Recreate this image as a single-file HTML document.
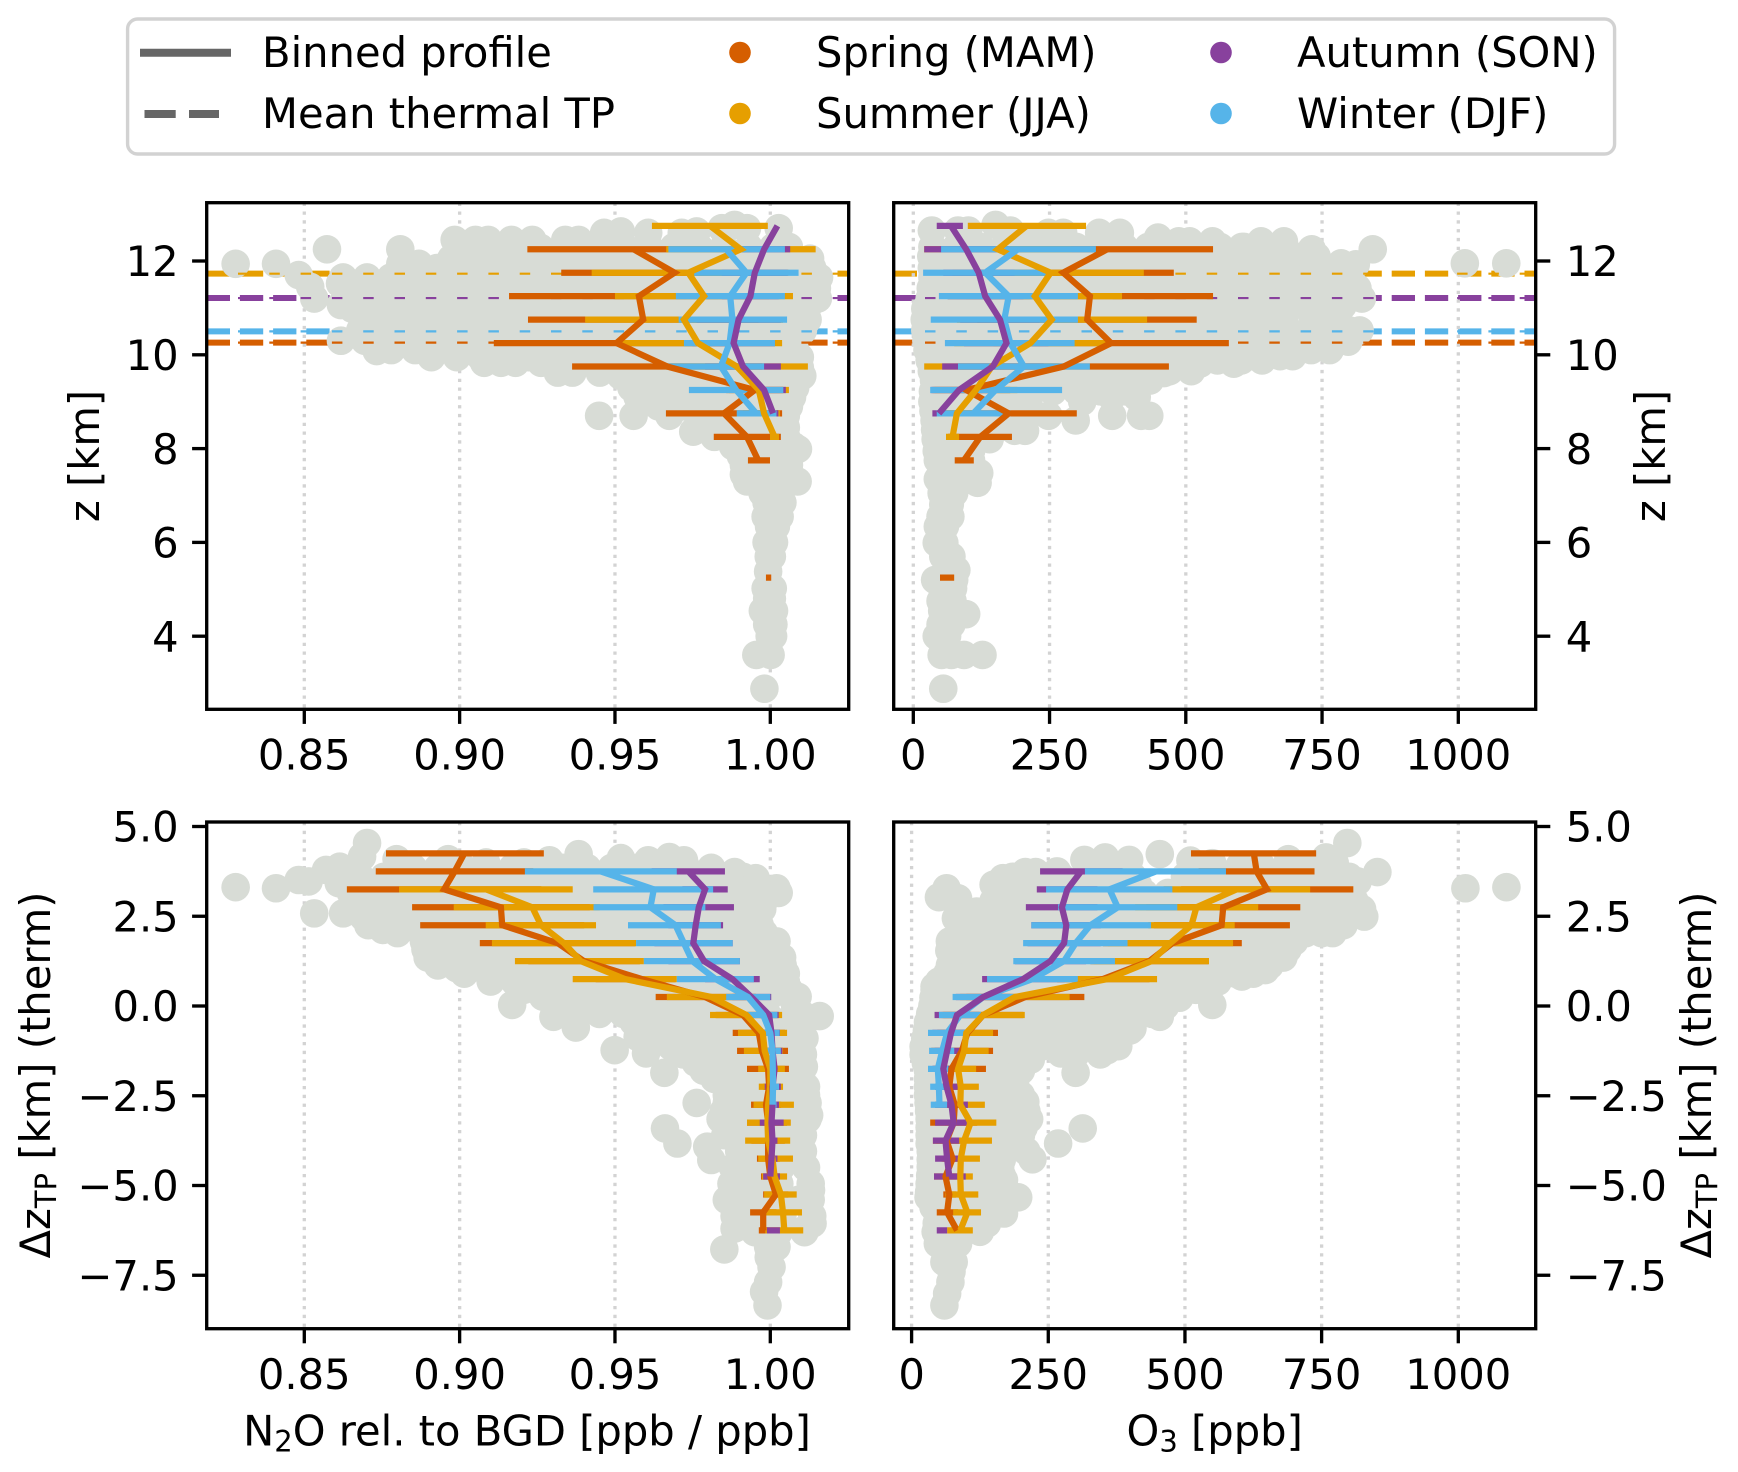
<!DOCTYPE html>
<html lang="en">
<head>
<meta charset="utf-8">
<title>Seasonal N2O and O3 profiles</title>
<style>
html,body{margin:0;padding:0;background:#fff}
svg{display:block}
text{font-family:"DejaVu Sans","Liberation Sans",sans-serif;font-size:41.67px;fill:#000}
</style>
</head>
<body>
<svg id="figure" xmlns="http://www.w3.org/2000/svg" width="1738" height="1472" viewBox="0 0 1738 1472">
<rect x="0" y="0" width="1738" height="1472" fill="#fff"/>
<defs>
<clipPath id="clip-tl"><rect x="206.7" y="202.7" width="642" height="506.6"/></clipPath>
<clipPath id="clip-tr"><rect x="893.7" y="202.7" width="642" height="506.6"/></clipPath>
<clipPath id="clip-bl"><rect x="206.7" y="822" width="642" height="506.7"/></clipPath>
<clipPath id="clip-br"><rect x="893.7" y="822" width="642" height="506.7"/></clipPath>
</defs>
<g id="panels"></g>
<g>
<rect x="127.6" y="19" width="1487" height="135" rx="10" ry="10" fill="#fff" stroke="#d2d2d2" stroke-width="3.4"/>
<line x1="140" y1="52.7" x2="231" y2="52.7" stroke="#666" stroke-width="8"/>
<text x="262" y="67">Binned profile</text>
<line x1="144.5" y1="114" x2="175.7" y2="114" stroke="#666" stroke-width="8"/>
<line x1="189" y1="114" x2="219" y2="114" stroke="#666" stroke-width="8"/>
<text x="262" y="128">Mean thermal TP</text>
<circle cx="740" cy="52.5" r="10.8" fill="#D55E00"/>
<text x="816" y="67">Spring (MAM)</text>
<circle cx="740" cy="113.5" r="10.8" fill="#E69F00"/>
<text x="816" y="128">Summer (JJA)</text>
<circle cx="1221" cy="52.5" r="10.8" fill="#88419D"/>
<text x="1297" y="67">Autumn (SON)</text>
<circle cx="1221" cy="113.5" r="10.8" fill="#56B4E9"/>
<text x="1297" y="128">Winter (DJF)</text>
</g>
<text transform="translate(99,456) rotate(-90)" text-anchor="middle">z [km]</text>
<text transform="translate(1665,456) rotate(-90)" text-anchor="middle">z [km]</text>
<text transform="translate(50,1075) rotate(-90)" text-anchor="middle">Δz<tspan font-size="29" dy="6">TP</tspan><tspan dy="-6"> [km] (therm)</tspan></text>
<text transform="translate(1711,1075) rotate(-90)" text-anchor="middle">Δz<tspan font-size="29" dy="6">TP</tspan><tspan dy="-6"> [km] (therm)</tspan></text>
<text x="527" y="1445.7" text-anchor="middle">N<tspan font-size="29" dy="6">2</tspan><tspan dy="-6">O rel. to BGD [ppb / ppb]</tspan></text>
<text x="1214.7" y="1445.7" text-anchor="middle">O<tspan font-size="29" dy="6">3</tspan><tspan dy="-6"> [ppb]</tspan></text>
</svg>
<script>
const _ = null;
const seasonNames = ['spring', 'summer', 'autumn', 'winter'];
const seasonColors = ['#D55E00', '#E69F00', '#88419D', '#56B4E9'];

const n2oTicks = [0.85, 0.90, 0.95, 1.00];
const n2oTickLabels = ['0.85', '0.90', '0.95', '1.00'];
const o3Ticks = [0, 250, 500, 750, 1000];
const o3TickLabels = ['0', '250', '500', '750', '1000'];
const zTicks = [4, 6, 8, 10, 12];
const zTickLabels = ['4', '6', '8', '10', '12'];
const dzTicks = [5, 2.5, 0, -2.5, -5, -7.5];
const dzTickLabels = ['5.0', '2.5', '0.0', '\u22122.5', '\u22125.0', '\u22127.5'];
const thermalTpLevels = [10.26, 11.73, 11.21, 10.5];

const zBins = [5.25, 5.75, 6.25, 6.75, 7.25, 7.75, 8.25, 8.75, 9.25, 9.75, 10.25, 10.75, 11.25, 11.75, 12.25, 12.75];
const dzBins = [-6.25, -5.75, -5.25, -4.75, -4.25, -3.75, -3.25, -2.75, -2.25, -1.75, -1.25, -0.75, -0.25, 0.25, 0.75, 1.25, 1.75, 2.25, 2.75, 3.25, 3.75, 4.25];

const zN2oSpringMean = [.9995,_,_,_,_,.9961,.9925,.9851,.9950,.9668,.9505,.9591,.9577,.9692,.9560,_];
const zN2oSpringLow = [.9986,_,_,_,_,.9928,.9818,.9664,.9858,.9362,.9110,.9220,.9159,.9327,.9218,_];
const zN2oSpringHigh = [1.0003,_,_,_,_,.9999,1.0034,1.0038,1.0041,.9974,.9901,.9962,.9996,1.0058,.9901,_];
const zN2oSummerMean = [_,_,_,_,_,_,1.0014,.9980,.9963,.9892,.9767,.9722,.9787,.9736,.9905,.9806];
const zN2oSummerLow = [_,_,_,_,_,_,.9999,.9912,.9867,.9664,.9505,.9404,.9500,.9425,.9665,.9619];
const zN2oSummerHigh = [_,_,_,_,_,_,1.0028,1.0031,1.0060,1.0121,1.0038,1.0041,1.0073,1.0046,1.0146,.9992];
const zN2oAutumnMean = [_,_,_,_,_,_,_,1.0009,.9980,.9912,.9882,.9898,.9936,.9950,.9980,1.0023];
const zN2oAutumnLow = [_,_,_,_,_,_,_,.9993,.9909,.9790,.9749,.9763,.9844,.9844,.9896,1.0023];
const zN2oAutumnHigh = [_,_,_,_,_,_,_,1.0026,1.0050,1.0034,1.0015,1.0034,1.0027,1.0054,1.0064,1.0023];
const zN2oWinterMean = [_,_,_,_,_,_,_,.9955,.9890,.9841,.9869,.9878,.9871,.9923,.9858,_];
const zN2oWinterLow = [_,_,_,_,_,_,_,.9892,.9738,.9664,.9722,.9705,.9696,.9755,.9672,_];
const zN2oWinterHigh = [_,_,_,_,_,_,_,1.0020,1.0042,.9980,1.0015,1.0054,1.0047,1.0091,1.0047,_];

const zO3SpringMean = [62,_,_,_,_,93,123,175,97,276,363,319,324,275,356,_];
const zO3SpringLow = [49,_,_,_,_,76,64,49,35,83,147,117,97,72,162,_];
const zO3SpringHigh = [75,_,_,_,_,111,181,300,178,469,579,520,550,478,550,_];
const zO3SummerMean = [_,_,_,_,_,_,72,80,115,144,215,254,223,252,155,208];
const zO3SummerLow = [_,_,_,_,_,_,60,47,39,20,75,80,63,80,20,100];
const zO3SummerHigh = [_,_,_,_,_,_,84,114,191,267,356,429,383,423,290,317];
const zO3AutumnMean = [_,_,_,_,_,_,_,47,84,146,171,159,132,120,97,69];
const zO3AutumnLow = [_,_,_,_,_,_,_,35,32,53,93,86,63,55,20,43];
const zO3AutumnHigh = [_,_,_,_,_,_,_,59,137,239,248,232,202,186,175,91];
const zO3WinterMean = [_,_,_,_,_,_,_,110,151,203,178,167,175,132,192,_];
const zO3WinterLow = [_,_,_,_,_,_,_,43,31,82,58,32,47,18,51,_];
const zO3WinterHigh = [_,_,_,_,_,_,_,178,273,324,296,302,302,246,335,_];

const dzN2oSpringMean = [.9977,.9977,1.0018,1.0,.9993,.9993,.9993,.9986,.9996,.9993,.9973,.9963,.9912,.9790,.9587,.9400,.9316,.9137,.9133,.8950,.8984,.9015];
const dzN2oSpringLow = [.9963,.9935,.9977,.9970,.9957,.9939,.9925,.9938,.9977,.9925,.9893,.9879,.9824,.9631,.9438,.9221,.9065,.8873,.8847,.8637,.8730,.8763];
const dzN2oSpringHigh = [.9991,1.002,1.0058,1.0031,1.0031,1.0047,1.0054,1.0035,1.0015,1.0060,1.0057,1.0047,1.0,.9953,.9695,.9580,.9566,.9401,.9419,.9263,.9237,.9271];
const dzN2oSummerMean = [1.0045,1.0041,1.0034,1.0014,1.0007,.9993,.9991,.9993,1.0,1.0,.9982,.9976,.9923,.9810,.9533,.9390,.9336,.9262,.9234,.9085,_,_];
const dzN2oSummerLow = [.9984,.998,.998,.9973,.9961,.9919,.9925,.9946,.9963,.9961,.9915,.9896,.9806,.9667,.9364,.9178,.9104,.9084,.8981,.8805,_,_];
const dzN2oSummerHigh = [1.0106,1.0102,1.0085,1.0054,1.0073,1.0064,1.0066,1.0076,1.0041,1.0047,1.0041,1.0054,1.0038,.9953,.9699,.9593,.9568,.9439,.9451,.9364,_,_];
const dzN2oAutumnMean = [1.0009,_,_,1.0,1.0004,1.0007,1.0004,1.0007,1.0007,1.0014,1.0007,1.0004,.9996,.9939,.9878,.9787,.9752,.9760,.9770,.9790,.9736,_];
const dzN2oAutumnLow = [.9989,_,_,.9977,.9986,.9993,.9966,.9986,.9982,1.0004,.9973,.998,.9966,.9878,.9790,.9672,.9627,.9672,.9656,.9717,.9618,_];
const dzN2oAutumnHigh = [1.0031,_,_,1.0031,1.0023,1.0023,1.0043,1.0028,1.0034,1.0023,1.0039,1.0031,1.0027,1.0003,.9966,.9902,.9879,.9848,.9883,.9863,.9854,_];
const dzN2oWinterMean = [_,_,_,_,_,_,_,1.0007,1.0009,1.0008,1.0007,1.0,.9977,.9928,.9824,.9749,.9722,.9695,.9614,.9625,.9454,_];
const dzN2oWinterLow = [_,_,_,_,_,_,_,.9996,.9993,.9993,.9991,.9973,.9925,.9858,.9699,.9593,.9568,.9542,.9431,.9430,.9210,_];
const dzN2oWinterHigh = [_,_,_,_,_,_,_,1.002,1.0028,1.002,1.0034,1.003,1.0023,1.0,.9947,.9902,.9879,.9841,.9791,.9816,.9699,_];

const dzO3SpringMean = [83,65,69,62,75,64,77,79,69,73,92,102,131,208,350,435,477,567,570,650,631,626];
const dzO3SpringLow = [73,46,58,41,58,39,34,55,44,40,36,47,58,100,266,327,350,443,429,493,525,511];
const dzO3SpringHigh = [93,85,81,82,92,89,120,103,95,136,149,158,204,316,435,543,604,692,711,808,737,740];
const dzO3SummerMean = [89,102,90,89,90,96,108,89,90,85,96,100,131,189,358,439,473,512,521,595,_,_];
const dzO3SummerLow = [65,76,62,65,55,45,61,43,57,52,52,52,55,89,267,333,359,433,409,461,_,_];
const dzO3SummerHigh = [112,127,122,112,125,147,155,134,123,118,141,149,207,289,449,544,588,591,634,729,_,_];
const dzO3AutumnMean = [55,_,_,69,65,62,77,73,64,58,65,72,83,131,204,254,279,283,275,285,310,_];
const dzO3AutumnLow = [46,_,_,41,43,39,43,43,43,38,42,38,42,81,129,189,212,219,209,229,235,_];
const dzO3AutumnHigh = [65,_,_,99,87,87,101,103,85,78,89,104,124,181,280,319,346,346,340,340,386,_];
const dzO3WinterMean = [_,_,_,_,_,_,_,51,50,48,56,65,89,131,221,279,300,327,377,362,447,_];
const dzO3WinterLow = [_,_,_,_,_,_,_,35,34,30,32,30,50,75,138,186,204,219,268,246,317,_];
const dzO3WinterHigh = [_,_,_,_,_,_,_,65,69,67,78,101,127,187,304,372,395,438,486,477,575,_];

/* Scatter rows: first number is the altitude coordinate, the rest are the x values at that altitude. */
const zN2oScatter = [
[12.77,.9885],[12.7,.9844,.9925,1.0027],[12.63,.9519,.9763],[12.6,.9465,.9607,.9715],
[12.45,.8984,.9051,.9092,.9167,.9234,.9340,.9383],
[12.3,.9450,.9530,.9610,.9690,.9770,.9850,.9930,1.0010,1.0060],
[12.28,.9020,.9100,.9180,.9260,.9340,.9400],
[12.25,.8573,.8809],
[12.05,.8973,.905,.9127,.9204,.9281,.9358,.9435,.9512,.9589,.9666,.9743,.982,.9897,.9974,1.0051,1.0128],
[11.94,.8279,.8409,.8809,.8869],
[11.85,.885,.8927,.9004,.9081,.9158,.9235,.9312,.9389,.9466,.9543,.962,.9697,.9774,.9851,.9928,1.0005,1.0082,1.0135],
[11.7,.8482],[11.52,.8615],[11.45,.8519],
[11.65,.8625,.8702,.8779,.8856,.8933,.901,.9087,.9164,.9241,.9318,.9395,.9472,.9549,.9626,.9703,.978,.9857,.9934,1.0011,1.0088,1.0157],
[11.42,.864,.8717,.8794,.8871,.8948,.9025,.9102,.9179,.9256,.9333,.941,.9487,.9564,.9641,.9718,.9795,.9872,.9949,1.0026,1.0103,1.015],
[11.2,.8532,.8665,.8742,.8819,.8896,.8973,.905,.9127,.9204,.9281,.9358,.9435,.9512,.9589,.9666,.9743,.982,.9897,.9974,1.0051,1.0128,1.0153],
[11.06,.8618],
[10.98,.8655,.8732,.8809,.8886,.8963,.904,.9117,.9194,.9271,.9348,.9425,.9502,.9579,.9656,.9733,.981,.9887,.9964,1.0041,1.0118],
[10.75,.87,.8777,.8854,.8931,.9008,.9085,.9162,.9239,.9316,.9393,.947,.9547,.9624,.9701,.9778,.9855,.9932,1.0009,1.0086,1.012],
[10.52,.868,.8757,.8834,.8911,.8988,.9065,.9142,.9219,.9296,.9373,.945,.9527,.9604,.9681,.9758,.9835,.9912,.9989,1.0066,1.0105],
[10.3,.8618,.8695,.8772,.8849,.8926,.9003,.908,.9157,.9234,.9311,.9388,.9465,.9542,.9619,.9696,.9773,.985,.9927,1.0004,1.0068],
[10.1,.878,.8857,.8934,.9011,.9088,.9165,.9242,.9319,.9396,.9473,.955,.9627,.9704,.9781,.9858,.9935,1.0012,1.008],
[10.08,.8733],
[9.95,.8909,.8991,.9068,.9145,.9222,.9299,.9376,.9453,.953,.9607,.9684,.9761,.9838,.9915,.9992,1.0069,1.0095],
[9.83,.9079,.9133,.9180,.9262],
[9.73,.9490,.9567,.9644,.9721,.9798,.9875,.9952,1.0029,1.0095],
[9.62,.9316,.9363,.9451],
[9.55,.9519,.9596,.9673,.975,.9827,.9904,.9981,1.0058,1.0103],
[9.3,.9553,.963,.9707,.9784,.9861,.9938,1.0015,1.008],
[9.1,.9573,.965,.9727,.9804,.9881,.9958,1.0035,1.0070],
[8.9,.964,.9717,.9794,.9871,.9948,1.0025,1.006],
[8.7,.9449,.9560,.9675,.9790,.9867,.9944,1.0021,1.0050],
[8.45,.978,.9857,.9934,1.0011,1.005],
[8.36,.9752,.9858],
[8.25,.982,.9897,.9974,1.0051],
[8.05,.988,.9957,1.0034,1.0075],
[7.99,1.0089],
[7.85,.9905,.998,1.005],
[7.65,.9915,.995,1.002,1.006],
[7.45,.9915,.9993,1.004],[7.3,.9925,1.0088],[7.25,.9993,1.004],
[7.05,.9975,1.003],[6.85,.9988,1.0039],[6.55,.9985,1.003],[6.34,.9996,1.0018],[6.0,.9988,1.0012],[5.7,.9995,1.0005],
[5.38,.9993],[5.02,.9985,1.0008],[4.8,.999,1.0005],[4.54,.9976,1.0012],[4.25,.999,1.001],[4.0,1.0009,.9998],[3.6,.9955,1.0001],[2.88,.9981]
];
const zO3Scatter = [
[12.77,151],[12.65,34,82,101,178],[12.6,248,275,341,379],[12.5,209,449],[12.42,487,507,549,638,680],[12.3,603],
[12.3,35,79,123,167,211,255,299,343,387,431,475,519,563,607,651],
[12.1,33,77,121,165,209,253,297,341,385,429,473,517,561,605,649,670,700,740],
[12.25,731,843],[11.95,785,1012,1088],[11.93,812],
[11.85,34,78,122,166,210,254,298,342,386,430,474,518,562,606,650,700,740],
[11.65,35,79,123,167,211,255,299,343,387,431,475,519,563,607,651,695,739,783],
[11.42,32,76,120,164,208,252,296,340,384,428,472,516,560,604,648,692,736,780,815],
[11.2,30,74,118,162,206,250,294,338,382,426,470,514,558,602,646,690,734,778,823],
[11.05,788],
[10.98,22,66,110,154,198,242,286,330,374,418,462,506,550,594,638,682,726,770],
[10.75,21,65,109,153,197,241,285,329,373,417,461,505,549,593,637,681,734],
[10.52,22,66,110,154,198,242,286,330,374,418,462,506,550,594,638,682,726,770,800,819],
[10.3,24,68,112,156,200,244,288,332,376,420,464,508,552,596,640,684,728,770],[10.28,798],
[10.1,26,70,114,158,202,246,290,334,378,422,466,510,554,598,642,686,730,764],
[9.97,673,696],
[9.88,30,74,118,162,206,250,294,338,382,426,470,514,558,602,640],
[9.81,526,588],
[9.65,34,78,122,166,210,254,298,342,386,430,470,510],[9.61,460],
[9.45,38,82,126,170,214,258,302,346,390,434],
[9.22,36,80,124,168,212,256,300,344,390],
[9.1,364,410],
[9.0,35,79,123,167,211,310],
[8.8,37,81,125,165,205],
[8.7,248,365,418,433],[8.6,39,83,127,167,298],
[8.4,40,80,120,150],
[8.38,186,205],
[8.2,41,75,106,140],
[7.95,43,85,106],
[7.75,45,85,106],
[7.48,121],[7.35,45,85],[7.27,59,118,85],
[7.05,52,75],[6.81,55,67],[6.55,50,68],[6.34,45,58],[5.99,43,57],[5.7,55,70],
[5.41,79],[5.2,40,75],[5.02,53,73],[4.75,50,72],[4.54,53,75],[4.47,97],[4.25,50,70],[4.0,43,62],[3.6,52,93,127,70],[2.88,55]
];
const dzN2oScatter = [
[4.54,.8702],[4.23,.9383],[4.16,.8686],[4.15,.9675],[4.12,.9519],[4.09,.8797,.8963],[4.06,.9289,.9607,.9722],[4.0,.9085,.9207],
[3.88,.8614],[3.79,.8570],[3.75,.9810],[3.73,.9885],[3.56,.9953],[3.51,.8482],[3.47,.8514],[3.42,.8611],[3.31,.8279],[3.28,.8409,1.002],
[3.85,.885,.893,.901,.909,.917,.925,.933,.941,.949,.957,.965,.973,.981],
[3.6,.868,.8757,.8834,.8911,.8988,.9065,.9142,.9219,.9296,.9373,.945,.9527,.9604,.9681,.9758,.9835,.9912],
[3.38,.872,.8797,.8874,.8951,.9028,.9105,.9182,.9259,.9336,.9413,.949,.9567,.9644,.9721,.9798,.9875,.9952],
[3.15,.865,.8727,.8804,.8881,.8958,.9035,.9112,.9189,.9266,.9343,.942,.9497,.9574,.9651,.9728,.9805,.9882,.9959,1.0027],
[2.93,.87,.8777,.8854,.8931,.9008,.9085,.9162,.9239,.9316,.9393,.947,.9547,.9624,.9701,.9778,.9855,.9932,.998],
[2.7,.8665,.8742,.8819,.8896,.8973,.905,.9127,.9204,.9281,.9358,.9435,.9512,.9589,.9666,.9743,.982,.9897,.9974],
[2.58,.8532,.8625],
[2.48,.869,.8767,.8844,.8921,.8998,.9075,.9152,.9229,.9306,.9383,.946,.9537,.9614,.9691,.9768,.9845,.9922,.994],
[2.25,.8706,.8783,.886,.8937,.9014,.9091,.9168,.9245,.9322,.9399,.9476,.9553,.963,.9707,.9784,.9861,.9938,.9966],
[2.12,.8753],
[2.03,.88,.8877,.8954,.9031,.9108,.9185,.9262,.9339,.9416,.9493,.957,.9647,.9724,.9801,.9878,.9955,.998],
[1.8,.8885,.8962,.9039,.9116,.9193,.927,.9347,.9424,.9501,.9578,.9655,.9732,.9809,.9886,.9963,1.002],
[1.58,.889,.8967,.9044,.9121,.9198,.9275,.9352,.9429,.9506,.9583,.966,.9737,.9814,.9891,.9968,1.0],
[1.35,.8897,.8974,.9051,.9128,.9205,.9282,.9359,.9436,.9513,.959,.9667,.9744,.9821,.9898,.9975,1.0038],
[1.13,.893,.9007,.9084,.9161,.9238,.9315,.9392,.9469,.9546,.9623,.97,.9777,.9854,.9931,1.0008,1.004],
[1.05,.8991],
[.9,.9015,.9092,.9169,.9246,.9323,.94,.9477,.9554,.9631,.9708,.9785,.9862,.9939,1.0016,1.005],
[.68,.91,.9177,.9254,.9331,.9408,.9485,.9562,.9639,.9716,.9793,.987,.9947,1.0024,1.005],
[.45,.9207,.9284,.9361,.9438,.9515,.9592,.9669,.9746,.9823,.99,.9977,1.006],
[.26,.9268,1.0088],[.23,.93,.9377,.9454,.9531,.9608,.9685,.9762,.9839,.9916,.9993,1.007],[.03,.9169],
[0,.935,.9427,.9504,.9581,.9658,.9735,.9812,.9889,.9966,1.008],
[-.11,.9417],[-.28,1.0159],[-.3,.9302],[-.6,.9374],
[-.22,.945,.9527,.9604,.9681,.9758,.9835,.9912,.9989,1.01],
[-.45,.956,.9637,.9714,.9791,.9868,.9945,1.0022,1.011],
[-.68,.96,.9677,.9754,.9831,.9908,.9985,1.01],
[-.86,.9573],
[-.9,.965,.9727,.9804,.9881,.9958,1.0035,1.011],
[-1.12,.968,.9757,.9834,.9911,.9988,1.01],
[-1.23,.9499],[-1.32,.96],
[-1.35,.972,.9797,.9874,.9951,1.0028,1.0105],
[-1.58,.976,.9837,.9914,.9991,1.01],
[-1.69,1.0108],[-1.86,.9659],
[-1.8,.9785,.9862,.9939,1.0016,1.0093],
[-2.03,.982,.9897,.9974,1.0051,1.01],
[-2.25,.9865,.9942,1.0019,1.0096,1.0115],
[-2.48,.986,.9937,1.0014,1.0091,1.0115],
[-2.7,.9763,.986,.9937,1.0014,1.0091,1.012],
[-2.93,.985,.9927,1.0004,1.0081,1.012],
[-3.04,1.0125],
[-3.15,.984,.9917,.9994,1.0071,1.012],
[-3.41,.9661],[-3.83,.9701],[-3.92,.9797],[-4.29,.9810],
[-3.6,.9855,.9932,1.0009,1.0086,1.0105],
[-4.05,.99,.9977,1.0054,1.0105],
[-4.5,.988,.9957,1.0034,1.0115],
[-4.95,.9875,.9952,1.0029,1.013],
[-5.13,1.0131],[-5.32,.9869],
[-5.4,.986,.9937,1.0014,1.0091,1.013],
[-5.85,.9885,.9962,1.0039,1.0135],
[-6.06,1.0136],[-6.2,.9885,1.0115],
[-6.3,.995,1.0027,1.011],
[-6.71,.9993,1.002],[-6.78,.9852],[-7.27,1.0004],[-7.0,.9995],[-7.69,.9993],[-7.96,.998],[-8.34,.9991]
];
const dzO3Scatter = [
[4.54,797],[4.23,454],[4.14,354,758],[4.09,689],[4.07,316,398],[4.05,510],[3.98,550,774],
[3.9,600,640,720],[3.73,208,227,852],[3.75,266],[3.56,167],[3.47,816],[3.31,1088],[3.28,64,1013],[3.03,50],[3.0,85],
[3.6,185,229,273,317,361,405,500,544,588,632,676,720,764,800],
[3.38,150,194,238,282,326,370,414,502,546,590,634,678,722,766,810],
[3.15,161,205,249,293,337,381,425,469,513,557,601,645,689,733,777,800],
[2.93,150,194,238,282,326,370,414,458,502,546,590,634,678,722,766,810],
[2.7,140,184,228,272,316,360,404,448,492,536,580,624,668,712,756,800,824],
[2.63,119],[2.49,828],[2.44,81],
[2.48,125,169,213,257,301,345,389,433,477,521,565,609,653,697,741,785,800],
[2.25,110,154,198,242,286,330,374,418,462,506,550,594,638,682,726,770,790],
[2.12,758,774],[2.03,721],
[2.03,90,134,178,222,266,310,354,398,442,486,530,574,618,662,706,750,770],
[1.8,70,114,158,202,246,290,334,378,422,466,510,554,598,642,686,700],
[1.58,72,116,160,204,248,292,336,380,424,468,512,556,600,644,688],
[1.56,681],[1.54,69],
[1.35,75,119,163,207,251,295,339,383,427,471,515,559,603,647,680],
[1.13,70,114,158,202,246,290,334,378,422,466,510,554,598,642,655],
[1.0,647],
[.9,65,109,153,197,241,285,329,373,417,461,505,549,593,625],
[.82,566,604],
[.68,50,94,138,182,226,270,314,358,402,446,490,534,560],
[.63,508],[.54,42],
[.45,42,86,130,174,218,262,306,350,394,438,482,520],
[.23,40,84,128,172,216,260,304,348,392,436,490],
[.03,550],
[0,38,82,126,170,214,258,302,346,390,434,464],
[-.3,454],
[-.22,34,78,122,166,210,254,298,342,386,440],
[-.45,30,74,118,162,206,250,294,338,382,404],
[-.62,404],
[-.68,28,72,116,160,204,248,292,336,380,400],
[-.9,25,69,113,157,201,245,289,333,380],
[-1.12,24,68,112,156,200,240,290,334,378],
[-1.13,22],[-1.23,358],[-1.32,273],
[-1.35,22,66,110,154,198,300,345],
[-1.49,218],[-1.86,300],
[-1.58,26,70,114,158,205],
[-1.8,30,74,118,162,200],
[-2.03,30,74,118,162,190],
[-2.25,30,74,118,160,190],
[-2.48,30,74,118,162,200],
[-2.67,208],
[-2.7,31,75,119,163],
[-2.93,32,76,120,164,210],
[-3.15,33,77,121,165,215],
[-3.38,33,77,121,165,205],
[-3.41,313],[-3.6,33,77,121,165,200],[-3.83,268,33,77,121,165],
[-4.05,35,79,123,165,210],[-4.27,221],[-4.28,35,79,123,165],
[-4.48,35,79,123,162],
[-4.72,34,78,122,165],
[-4.85,169],
[-4.95,33,77,121,165],
[-5.18,32,76,120,164],
[-5.33,31,75,119,163,195],
[-5.6,40,84,128,170],
[-5.78,50,94,138,169],
[-6.05,46,90,135],
[-6.06,138],
[-6.29,44,88,125],
[-6.62,48,85],
[-7.13,60,77],[-7.69,71],[-7.4,73],[-8.01,65],[-8.34,60]
];

const NS = 'http://www.w3.org/2000/svg';
const panelsRoot = document.getElementById('panels');
function xN2o(v) { return 770.3 + (v - 1) * 3106.7; }
function xO3Top(v) { return 913.3 + v * 0.545; }
function xO3Bottom(v) { return 911.6 + v * 0.5467; }
function yZ(z) { return 261 + (12 - z) * 46.9; }
function yDz(d) { return 1006 - d * 35.9; }

function make(parent, tag, attrs, name) {
  const el = document.createElementNS(NS, tag);
  for (const k in attrs) el.setAttribute(k, attrs[k]);
  
  
  parent.appendChild(el);
  return el;
}

function drawPanel(cfg) {
  const box = cfg.box;
  const root = make(panelsRoot, 'g', {}, cfg.key + '-panel');
  const marks = make(root, 'g', { 'clip-path': 'url(#' + cfg.clip + ')' }, cfg.key + '-plot-area');

  if (cfg.tp) {
    cfg.tp.forEach(function (level, i) {
      make(marks, 'line', { x1: box.left, x2: box.right, y1: cfg.y(level), y2: cfg.y(level), stroke: seasonColors[i], 'stroke-width': 6, 'stroke-dasharray': '23.3 9.9' }, cfg.key + '-tp-line-' + seasonNames[i]);
    });
  }
  cfg.xTicks.forEach(function (t, i) {
    make(marks, 'line', { x1: cfg.x(t), x2: cfg.x(t), y1: box.top, y2: box.bottom, stroke: '#d3d3d3', 'stroke-width': 3.3, 'stroke-dasharray': '3.3 5.5' }, cfg.key + '-gridline-' + i);
  });
  const cloud = make(marks, 'g', { fill: '#d8dcd6' }, cfg.key + '-scatter');
  cfg.scatter.forEach(function (row) {
    for (let j = 1; j < row.length; j++) {
      make(cloud, 'circle', { cx: cfg.x(row[j]), cy: cfg.y(row[0]), r: 14.3 }, cfg.key + '-scatter-point');
    }
  });
  if (cfg.tp) {
    cfg.tp.forEach(function (level, i) {
      make(marks, 'line', { x1: box.left, x2: box.right, y1: cfg.y(level), y2: cfg.y(level), stroke: seasonColors[i], 'stroke-width': 2.2, 'stroke-dasharray': '10.5 20.8' }, cfg.key + '-tp-overlay-' + seasonNames[i]);
    });
  }
  cfg.series.forEach(function (s, i) {
    cfg.bins.forEach(function (b, j) {
      if (s.low[j] === null) return;
      make(marks, 'line', { x1: cfg.x(s.low[j]), x2: cfg.x(s.high[j]), y1: cfg.y(b), y2: cfg.y(b), stroke: seasonColors[i], 'stroke-width': 6.25 }, cfg.key + '-bar-' + seasonNames[i]);
    });
  });
  cfg.lineOrder.forEach(function (i) {
    const s = cfg.series[i];
    let segment = [];
    function flush() {
      if (segment.length > 1) {
        make(marks, 'polyline', { points: segment.join(' '), fill: 'none', stroke: seasonColors[i], 'stroke-width': 6.25, 'stroke-linejoin': 'miter' }, cfg.key + '-profile-' + seasonNames[i]);
      }
      segment = [];
    }
    cfg.bins.forEach(function (b, j) {
      if (s.mean[j] === null) { flush(); return; }
      segment.push(cfg.x(s.mean[j]).toFixed(1) + ',' + cfg.y(b).toFixed(1));
    });
    flush();
  });

  make(root, 'rect', { x: box.left, y: box.top, width: box.right - box.left, height: box.bottom - box.top, fill: 'none', stroke: '#000', 'stroke-width': 3.33 }, cfg.key + '-frame');

  cfg.xTicks.forEach(function (t, i) {
    const px = cfg.x(t);
    make(root, 'line', { x1: px, x2: px, y1: box.bottom, y2: box.bottom + 14.6, stroke: '#000', 'stroke-width': 3.33 }, cfg.key + '-x-tick-' + i);
    const label = make(root, 'text', { x: px, y: box.bottom + 60.2, 'text-anchor': 'middle' }, cfg.key + '-x-tick-label-' + i);
    label.textContent = cfg.xLabels[i];
  });
  cfg.yTicks.forEach(function (t, i) {
    const py = cfg.y(t);
    const sign = cfg.yOnRight ? 1 : -1;
    const edge = cfg.yOnRight ? box.right : box.left;
    make(root, 'line', { x1: edge, x2: edge + sign * 14.6, y1: py, y2: py, stroke: '#000', 'stroke-width': 3.33 }, cfg.key + '-y-tick-' + i);
    const label = make(root, 'text', { x: edge + sign * (cfg.yOnRight ? 30 : 28), y: py + 15.2, 'text-anchor': cfg.yOnRight ? 'start' : 'end' }, cfg.key + '-y-tick-label-' + i);
    label.textContent = cfg.yLabels[i];
  });
}

drawPanel({
  key: 'top-n2o', clip: 'clip-tl', box: { left: 206.7, right: 848.7, top: 202.7, bottom: 709.3 },
  x: xN2o, y: yZ, bins: zBins, scatter: zN2oScatter, tp: thermalTpLevels,
  xTicks: n2oTicks, xLabels: n2oTickLabels, yTicks: zTicks, yLabels: zTickLabels, yOnRight: false, lineOrder: [0, 1, 3, 2],
  series: [
    { mean: zN2oSpringMean, low: zN2oSpringLow, high: zN2oSpringHigh },
    { mean: zN2oSummerMean, low: zN2oSummerLow, high: zN2oSummerHigh },
    { mean: zN2oAutumnMean, low: zN2oAutumnLow, high: zN2oAutumnHigh },
    { mean: zN2oWinterMean, low: zN2oWinterLow, high: zN2oWinterHigh }
  ]
});
drawPanel({
  key: 'top-o3', clip: 'clip-tr', box: { left: 893.7, right: 1535.7, top: 202.7, bottom: 709.3 },
  x: xO3Top, y: yZ, bins: zBins, scatter: zO3Scatter, tp: thermalTpLevels,
  xTicks: o3Ticks, xLabels: o3TickLabels, yTicks: zTicks, yLabels: zTickLabels, yOnRight: true, lineOrder: [0, 1, 3, 2],
  series: [
    { mean: zO3SpringMean, low: zO3SpringLow, high: zO3SpringHigh },
    { mean: zO3SummerMean, low: zO3SummerLow, high: zO3SummerHigh },
    { mean: zO3AutumnMean, low: zO3AutumnLow, high: zO3AutumnHigh },
    { mean: zO3WinterMean, low: zO3WinterLow, high: zO3WinterHigh }
  ]
});
drawPanel({
  key: 'bottom-n2o', clip: 'clip-bl', box: { left: 206.7, right: 848.7, top: 822, bottom: 1328.7 },
  x: xN2o, y: yDz, bins: dzBins, scatter: dzN2oScatter, tp: null,
  xTicks: n2oTicks, xLabels: n2oTickLabels, yTicks: dzTicks, yLabels: dzTickLabels, yOnRight: false, lineOrder: [0, 1, 2, 3],
  series: [
    { mean: dzN2oSpringMean, low: dzN2oSpringLow, high: dzN2oSpringHigh },
    { mean: dzN2oSummerMean, low: dzN2oSummerLow, high: dzN2oSummerHigh },
    { mean: dzN2oAutumnMean, low: dzN2oAutumnLow, high: dzN2oAutumnHigh },
    { mean: dzN2oWinterMean, low: dzN2oWinterLow, high: dzN2oWinterHigh }
  ]
});
drawPanel({
  key: 'bottom-o3', clip: 'clip-br', box: { left: 893.7, right: 1535.7, top: 822, bottom: 1328.7 },
  x: xO3Bottom, y: yDz, bins: dzBins, scatter: dzO3Scatter, tp: null,
  xTicks: o3Ticks, xLabels: o3TickLabels, yTicks: dzTicks, yLabels: dzTickLabels, yOnRight: true, lineOrder: [0, 1, 3, 2],
  series: [
    { mean: dzO3SpringMean, low: dzO3SpringLow, high: dzO3SpringHigh },
    { mean: dzO3SummerMean, low: dzO3SummerLow, high: dzO3SummerHigh },
    { mean: dzO3AutumnMean, low: dzO3AutumnLow, high: dzO3AutumnHigh },
    { mean: dzO3WinterMean, low: dzO3WinterLow, high: dzO3WinterHigh }
  ]
});
</script>
</body>
</html>
